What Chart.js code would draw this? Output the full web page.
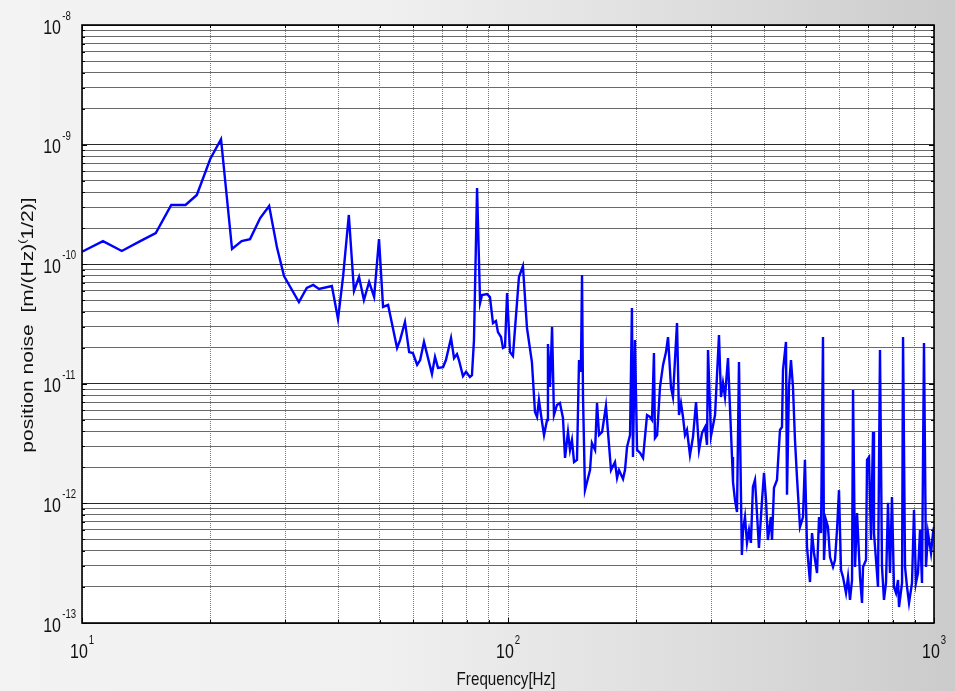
<!DOCTYPE html>
<html>
<head>
<meta charset="utf-8">
<script src="https://cdn.jsdelivr.net/npm/chart.js@4.4.0/dist/chart.umd.min.js"></script>
<style>
html, body { margin: 0; padding: 0; }
body {
  width: 955px; height: 691px; overflow: hidden;
  background: linear-gradient(to right, #f3f3f3 0%, #f0f0f0 40%, #dedede 72%, #cbcbcb 100%);
}
canvas { display: block; }
</style>
</head>
<body>
<canvas id="noiseChart" width="955" height="691"></canvas>
<script>
// frequency [Hz]
var freqs = [
  10, 11.2, 12.4, 13.7, 14.9, 16.2, 17.5, 18.6, 20.0, 21.2,
  22.5, 23.7, 24.8, 26.2, 27.5, 28.7, 29.8, 32.3, 33.7, 34.9,
  36.0, 38.6, 39.9, 41.0, 42.3, 43.5, 44.7, 45.9, 47.2, 48.5,
  49.8, 50.9, 52.3, 54.9, 55.8, 57.3, 58.6, 59.8, 61.2, 62.2,
  63.5, 66.3, 67.4, 68.5, 70.4, 71.5, 73.5, 74.7, 75.9, 76.7,
  78.4, 79.7, 81.4, 82.3, 83.2, 84.6, 86.0, 86.9, 89.3, 90.7,
  92.2, 93.7, 94.7, 96.3, 97.3, 98.4, 99.5, 101.1, 102.7, 106.1,
  108.4, 110.8, 113.8, 115.7, 117.0, 118.2, 120.2, 121.5, 123.5, 124.1,
  125.5, 126.9, 128.2, 130.3, 132.4, 134.6, 136.1, 138.3, 139.8, 141.3,
  142.9, 145.2, 146.8, 148.3, 149.2, 150.0, 151.6, 155.8, 157.4, 160.1,
  161.8, 163.6, 166.3, 169.8, 171.7, 174.5, 178.3, 180.3, 182.2, 186.2,
  188.2, 190.3, 193.4, 195.4, 196.5, 198.6, 200.9, 204.2, 207.5, 212.0,
  215.4, 217.8, 220.1, 221.3, 223.9, 227.4, 231.2, 234.9, 237.5, 241.3,
  243.9, 249.3, 252.0, 254.7, 257.5, 260.3, 263.1, 267.4, 271.8, 276.3,
  280.8, 285.4, 290.1, 293.2, 294.8, 299.6, 306.2, 312.8, 316.2, 319.6,
  323.1, 328.4, 331.9, 335.6, 337.4, 341.0, 344.8, 348.5, 354.0, 356.2,
  360.0, 363.9, 367.9, 371.7, 375.8, 380.0, 384.1, 388.2, 394.5, 399.0,
  403.3, 407.4, 414.0, 416.6, 421.1, 428.0, 430.3, 435.0, 439.7, 442.1,
  449.3, 451.8, 456.6, 461.6, 466.6, 471.7, 476.8, 484.6, 492.6, 497.8,
  503.4, 511.6, 517.2, 522.8, 531.4, 537.2, 543.0, 548.8, 551.8, 557.8,
  563.8, 570.0, 579.4, 585.6, 592.0, 598.4, 604.9, 611.5, 621.5, 628.3,
  635.1, 642.1, 645.6, 652.6, 659.7, 670.5, 677.7, 681.4, 692.5, 696.3,
  703.8, 711.5, 719.2, 723.0, 734.8, 738.8, 746.8, 755.0, 763.1, 771.5,
  779.8, 788.3, 796.8, 805.4, 814.4, 823.2, 827.7, 841.4, 845.9, 855.1,
  864.4, 873.7, 887.9, 897.5, 907.2, 917.2, 927.2, 937.2, 947.3, 957.7,
  968.2, 984.0, 994.6, 1000
];

// position noise [m/(Hz)^(1/2)]
var noise = [
  1.27e-10, 1.56e-10, 1.29e-10, 1.56e-10, 1.82e-10, 3.13e-10, 3.13e-10, 3.79e-10, 7.58e-10, 1.11e-9,
  1.34e-10, 1.56e-10, 1.62e-10, 2.43e-10, 3.07e-10, 1.37e-10, 7.96e-11, 4.83e-11, 6.32e-11, 6.70e-11,
  6.21e-11, 6.57e-11, 3.48e-11, 7.82e-11, 2.58e-10, 5.97e-11, 7.82e-11, 5.02e-11, 7.10e-11, 5.32e-11,
  1.62e-10, 4.39e-11, 4.56e-11, 1.99e-11, 2.32e-11, 3.29e-11, 1.84e-11, 1.81e-11, 1.44e-11, 1.58e-11,
  2.24e-11, 1.21e-11, 1.68e-11, 1.36e-11, 1.38e-11, 1.58e-11, 2.42e-11, 1.64e-11, 1.77e-11, 1.58e-11,
  1.16e-11, 1.26e-11, 1.14e-11, 1.18e-11, 2.32e-11, 4.34e-10, 4.74e-11, 5.53e-11, 5.63e-11, 5.32e-11,
  3.22e-11, 3.35e-11, 2.71e-11, 2.46e-11, 1.99e-11, 2.03e-11, 5.74e-11, 1.84e-11, 1.71e-11, 7.82e-11,
  9.66e-11, 2.93e-11, 1.52e-11, 5.81e-12, 5.28e-12, 7.32e-12, 4.79e-12, 3.73e-12, 4.98e-12, 2.15e-11,
  9.40e-12, 2.99e-11, 5.48e-12, 6.65e-12, 6.91e-12, 5.18e-12, 2.40e-12, 3.95e-12, 2.80e-12, 3.39e-12,
  2.22e-12, 2.31e-12, 1.58e-11, 1.26e-11, 8.12e-11, 7.76e-12, 1.29e-12, 1.90e-12, 3.20e-12, 2.80e-12,
  6.91e-12, 3.73e-12, 3.95e-12, 6.52e-12, 3.95e-12, 1.90e-12, 2.22e-12, 1.63e-12, 1.90e-12, 1.60e-12,
  1.90e-12, 2.96e-12, 3.73e-12, 4.30e-11, 2.44e-12, 2.32e-11, 2.80e-12, 2.64e-12, 2.40e-12, 5.48e-12,
  5.28e-12, 4.98e-12, 1.81e-11, 3.52e-12, 3.73e-12, 9.40e-12, 1.44e-11, 1.84e-11, 2.46e-11, 9.40e-12,
  7.76e-12, 3.22e-11, 5.48e-12, 6.91e-12, 5.28e-12, 3.73e-12, 4.11e-12, 2.54e-12, 3.59e-12, 7.04e-12,
  2.80e-12, 3.88e-12, 4.35e-12, 3.08e-12, 1.92e-11, 3.66e-12, 5.48e-12, 2.56e-11, 7.76e-12, 1.02e-11,
  7.76e-12, 1.64e-11, 6.40e-12, 2.44e-12, 1.51e-12, 1.07e-12, 8.48e-13, 1.52e-11, 3.70e-13, 5.99e-13,
  7.70e-13, 4.67e-13, 5.99e-13, 4.67e-13, 1.37e-12, 1.57e-12, 8.31e-13, 4.24e-13, 1.03e-12, 1.80e-12,
  1.07e-12, 4.94e-13, 7.70e-13, 4.94e-13, 1.35e-12, 1.57e-12, 2.18e-12, 4.11e-12, 4.35e-12, 1.30e-11,
  2.24e-11, 1.18e-12, 9.40e-12, 1.58e-11, 9.40e-12, 3.39e-12, 1.66e-12, 6.35e-13, 7.70e-13, 2.31e-12,
  4.32e-13, 2.20e-13, 5.65e-13, 3.85e-13, 2.62e-13, 7.70e-13, 5.65e-13, 2.46e-11, 3.36e-13, 7.26e-13,
  6.35e-13, 3.56e-13, 2.94e-13, 3.36e-13, 5.99e-13, 1.29e-12, 2.77e-13, 2.42e-13, 1.78e-13, 2.42e-13,
  1.56e-13, 2.29e-13, 8.87e-12, 2.94e-13, 8.31e-13, 2.42e-13, 1.47e-13, 2.94e-13, 3.36e-13, 2.31e-12,
  2.44e-12, 4.94e-13, 3.95e-12, 5.65e-13, 2.62e-13, 2.00e-13, 1.92e-11, 2.94e-13, 1.56e-13, 2.16e-13,
  1.01e-12, 2.62e-13, 1.13e-12, 2.00e-13, 1.78e-13, 2.29e-13, 1.36e-13, 2.16e-13, 2.46e-11, 2.94e-13,
  2.00e-13, 1.47e-13, 2.16e-13, 8.81e-13, 2.16e-13, 2.62e-13, 5.99e-13, 2.16e-13, 2.19e-11, 2.94e-13,
  5.65e-13, 3.85e-13, 5.65e-13, 6.35e-13
];

// tick labels: powers of ten
var xTickExps = [1, 2, 3];
var yTickExps = [-8, -9, -10, -11, -12, -13];

var xTitle = 'Frequency[Hz]';
var yTitle = ['position noise  [m/(Hz)', '(', '1/2)]'];

var FONT = '"Liberation Sans", Arial, sans-serif';
var SQUASH = 0.8; // the original text is narrow

var points = freqs.map(function (f, i) { return { x: f, y: noise[i] }; });

function isDecade(v) {
  if (!v) return false;
  var l = Math.log10(v);
  return Math.abs(l - Math.round(l)) < 1e-6;
}

// 1..9 x 10^n ticks for the log grid
function logTicks(scale) {
  var lo = Math.floor(Math.log10(scale.min) + 1e-9);
  var hi = Math.round(Math.log10(scale.max));
  var t = [];
  for (var e = lo; e <= hi; e++) {
    for (var m = 1; m <= 9; m++) {
      var v = m * Math.pow(10, e);
      if (v >= scale.min * 0.999 && v <= scale.max * 1.001) t.push({ value: v });
      if (e === hi) break;
    }
  }
  scale.ticks = t;
}

var framePlugin = {
  id: 'frame',
  beforeDraw: function (chart) {
    var a = chart.chartArea, ctx = chart.ctx;
    ctx.save();
    ctx.fillStyle = '#ffffff';
    ctx.fillRect(a.left, a.top, a.right - a.left, a.bottom - a.top);
    ctx.restore();
  },
  afterDraw: function (chart) {
    var a = chart.chartArea, ctx = chart.ctx;
    var xs = chart.scales.x, ys = chart.scales.y;
    ctx.save();

    // inner tick marks on all four sides
    ctx.strokeStyle = '#000';
    ctx.lineWidth = 1;
    ctx.beginPath();
    ys.ticks.forEach(function (t) {
      var y = Math.round(ys.getPixelForValue(t.value)) + 0.5;
      var len = isDecade(t.value) ? 5 : 3;
      ctx.moveTo(a.left, y); ctx.lineTo(a.left + len, y);
      ctx.moveTo(a.right, y); ctx.lineTo(a.right - len, y);
    });
    xs.ticks.forEach(function (t) {
      var x = Math.round(xs.getPixelForValue(t.value)) + 0.5;
      var len = isDecade(t.value) ? 5 : 3;
      ctx.moveTo(x, a.bottom); ctx.lineTo(x, a.bottom - len);
      ctx.moveTo(x, a.top); ctx.lineTo(x, a.top + len);
    });
    ctx.stroke();

    // box
    ctx.lineWidth = 1.6;
    ctx.strokeRect(a.left, a.top, a.right - a.left, a.bottom - a.top);

    ctx.fillStyle = '#111';
    ctx.textBaseline = 'alphabetic';

    // y tick labels
    yTickExps.forEach(function (e) {
      var y = ys.getPixelForValue(Math.pow(10, e));
      ctx.save();
      ctx.translate(a.left - 21, 0);
      ctx.scale(SQUASH, 1);
      ctx.font = '20px ' + FONT;
      ctx.textAlign = 'right';
      ctx.fillText('10', 0, y + 8.5);
      ctx.font = '12px ' + FONT;
      ctx.textAlign = 'left';
      ctx.fillText(String(e), 1.5, y - 5);
      ctx.restore();
    });

    // x tick labels
    xTickExps.forEach(function (e) {
      var x = xs.getPixelForValue(Math.pow(10, e));
      ctx.save();
      ctx.translate(x, 0);
      ctx.scale(SQUASH, 1);
      ctx.font = '20px ' + FONT;
      var wb = ctx.measureText('10').width;
      ctx.font = '12px ' + FONT;
      var we = ctx.measureText(String(e)).width;
      var x0 = -(wb + we + 1) / 2;
      ctx.textAlign = 'left';
      ctx.font = '20px ' + FONT;
      ctx.fillText('10', x0, a.bottom + 35);
      ctx.font = '12px ' + FONT;
      ctx.fillText(String(e), x0 + wb + 1, a.bottom + 21);
      ctx.restore();
    });

    // x title
    ctx.save();
    ctx.translate((a.left + a.right) / 2 - 2, a.bottom + 62);
    ctx.scale(SQUASH, 1);
    ctx.font = '19px ' + FONT;
    ctx.textAlign = 'center';
    ctx.fillText(xTitle, 0, 0);
    ctx.restore();

    // y title, rotated, with the superscript bracket
    ctx.save();
    ctx.translate(33, (a.top + a.bottom) / 2 + 1);
    ctx.rotate(-Math.PI / 2);
    ctx.scale(1, SQUASH);
    var segs = [
      { t: yTitle[0], size: 21, dy: 0 },
      { t: yTitle[1], size: 13, dy: -9 },
      { t: yTitle[2], size: 21, dy: 0 }
    ];
    var total = 0;
    segs.forEach(function (s) {
      ctx.font = s.size + 'px ' + FONT;
      s.w = ctx.measureText(s.t).width;
      total += s.w;
    });
    var cx = -total / 2;
    ctx.textAlign = 'left';
    segs.forEach(function (s) {
      ctx.font = s.size + 'px ' + FONT;
      ctx.fillText(s.t, cx, s.dy);
      cx += s.w;
    });
    ctx.restore();

    ctx.restore();
  }
};

var ctx = document.getElementById('noiseChart');

var noiseChart = new Chart(ctx, {
  type: 'line',
  data: {
    datasets: [{
      data: points,
      borderColor: '#0000ff',
      borderWidth: 2.4,
      pointRadius: 0,
      fill: false,
      tension: 0
    }]
  },
  options: {
    responsive: false,
    animation: false,
    devicePixelRatio: 1,
    layout: { padding: { left: 82, top: 25, right: 21, bottom: 68 } },
    plugins: {
      legend: { display: false },
      tooltip: { enabled: false }
    },
    scales: {
      x: {
        type: 'logarithmic',
        min: 10,
        max: 1000,
        afterBuildTicks: logTicks,
        ticks: { display: false },
        grid: { color: '#7a7a7a', lineWidth: 1, drawTicks: false },
        border: { display: false, dash: [1, 1] }
      },
      y: {
        type: 'logarithmic',
        min: 1e-13,
        max: 1e-8,
        afterBuildTicks: logTicks,
        ticks: { display: false },
        grid: {
          color: function (c) { return isDecade(c.tick && c.tick.value) ? '#2a2a2a' : '#6a6a6a'; },
          lineWidth: 1,
          drawTicks: false
        },
        border: { display: false }
      }
    }
  },
  plugins: [framePlugin]
});
</script>
</body>
</html>
